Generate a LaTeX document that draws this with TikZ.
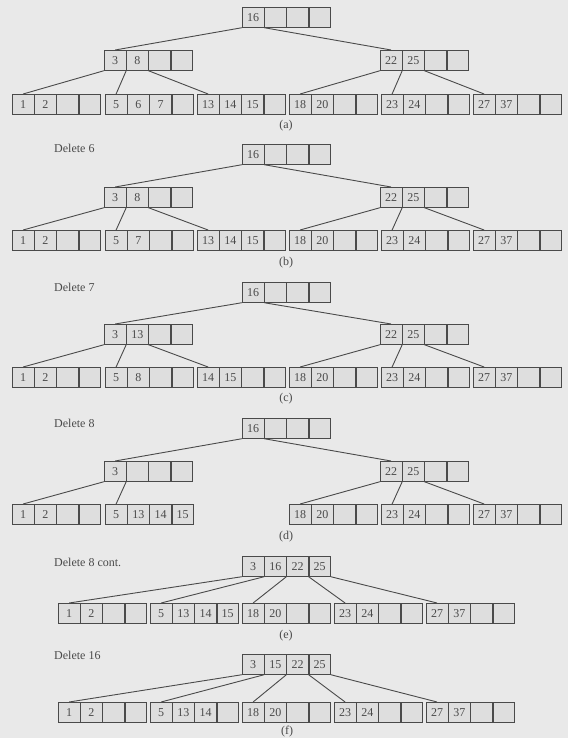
\documentclass[tikz,border=0pt]{standalone}
\usepackage{fontspec}
\setmainfont{Liberation Serif}
\definecolor{paper}{HTML}{E9E9E9}
\definecolor{cellfill}{HTML}{DEDEDE}
\definecolor{ink}{HTML}{4A4A4A}
\tikzset{
  cell/.style={draw=ink, fill=cellfill, minimum width=21.5pt, minimum height=20pt,
    inner sep=0pt, anchor=north west, font=\fontsize{12}{14}\selectfont, text=ink, line width=0.7pt},
  edge/.style={draw=ink, line width=0.9pt},
  lbl/.style={font=\fontsize{12}{14}\selectfont, text=ink, inner sep=0pt},
}
\newcommand{\btnode}[7]{%
  \node[cell] (#1-1) at (#2,#3) {#4};
  \node[cell] (#1-2) at (#1-1.north east) {#5};
  \node[cell] (#1-3) at (#1-2.north east) {#6};
  \node[cell] (#1-4) at (#1-3.north east) {#7};
}
\begin{document}
\begin{tikzpicture}[x=1pt,y=-1pt]
\fill[paper] (0,0) rectangle (568,738);
\useasboundingbox (0,0) rectangle (568,738);

% ---------------- (a)
\btnode{aR}{242}{7}{16}{}{}{}
\btnode{aL}{104}{50}{3}{8}{}{}
\btnode{aT}{380}{50}{22}{25}{}{}
\btnode{a1}{12}{94}{1}{2}{}{}
\btnode{a2}{105}{94}{5}{6}{7}{}
\btnode{a3}{197}{94}{13}{14}{15}{}
\btnode{a4}{289}{94}{18}{20}{}{}
\btnode{a5}{381}{94}{23}{24}{}{}
\btnode{a6}{473}{94}{27}{37}{}{}
\draw[edge] (aR-1.south west) -- (aL-1.north);
\draw[edge] (aR-1.south east) -- (aT-1.north);
\draw[edge] (aL-1.south west) -- (a1-1.north);
\draw[edge] (aL-1.south east) -- (a2-1.north);
\draw[edge] (aL-2.south east) -- (a3-1.north);
\draw[edge] (aT-1.south west) -- (a4-1.north);
\draw[edge] (aT-1.south east) -- (a5-1.north);
\draw[edge] (aT-2.south east) -- (a6-1.north);
\node[lbl] (capa) at (286,126) {(a)};

% ---------------- (b)
\node[lbl, anchor=west] (delb) at (54,148) {Delete 6};
\btnode{bR}{242}{144}{16}{}{}{}
\btnode{bL}{104}{187}{3}{8}{}{}
\btnode{bT}{380}{187}{22}{25}{}{}
\btnode{b1}{12}{230}{1}{2}{}{}
\btnode{b2}{105}{230}{5}{7}{}{}
\btnode{b3}{197}{230}{13}{14}{15}{}
\btnode{b4}{289}{230}{18}{20}{}{}
\btnode{b5}{381}{230}{23}{24}{}{}
\btnode{b6}{473}{230}{27}{37}{}{}
\draw[edge] (bR-1.south west) -- (bL-1.north);
\draw[edge] (bR-1.south east) -- (bT-1.north);
\draw[edge] (bL-1.south west) -- (b1-1.north);
\draw[edge] (bL-1.south east) -- (b2-1.north);
\draw[edge] (bL-2.south east) -- (b3-1.north);
\draw[edge] (bT-1.south west) -- (b4-1.north);
\draw[edge] (bT-1.south east) -- (b5-1.north);
\draw[edge] (bT-2.south east) -- (b6-1.north);
\node[lbl] (capb) at (286,263) {(b)};

% ---------------- (c)
\node[lbl, anchor=west] (delc) at (54,287) {Delete 7};
\btnode{cR}{242}{282}{16}{}{}{}
\btnode{cL}{104}{324}{3}{13}{}{}
\btnode{cT}{380}{324}{22}{25}{}{}
\btnode{c1}{12}{367}{1}{2}{}{}
\btnode{c2}{105}{367}{5}{8}{}{}
\btnode{c3}{197}{367}{14}{15}{}{}
\btnode{c4}{289}{367}{18}{20}{}{}
\btnode{c5}{381}{367}{23}{24}{}{}
\btnode{c6}{473}{367}{27}{37}{}{}
\draw[edge] (cR-1.south west) -- (cL-1.north);
\draw[edge] (cR-1.south east) -- (cT-1.north);
\draw[edge] (cL-1.south west) -- (c1-1.north);
\draw[edge] (cL-1.south east) -- (c2-1.north);
\draw[edge] (cL-2.south east) -- (c3-1.north);
\draw[edge] (cT-1.south west) -- (c4-1.north);
\draw[edge] (cT-1.south east) -- (c5-1.north);
\draw[edge] (cT-2.south east) -- (c6-1.north);
\node[lbl] (capc) at (286,399) {(c)};

% ---------------- (d)
\node[lbl, anchor=west] (deld) at (54,423) {Delete 8};
\btnode{dR}{242}{418}{16}{}{}{}
\btnode{dL}{104}{461}{3}{}{}{}
\btnode{dT}{380}{461}{22}{25}{}{}
\btnode{d1}{12}{504}{1}{2}{}{}
\btnode{d2}{105}{504}{5}{13}{14}{15}
\btnode{d4}{289}{504}{18}{20}{}{}
\btnode{d5}{381}{504}{23}{24}{}{}
\btnode{d6}{473}{504}{27}{37}{}{}
\draw[edge] (dR-1.south west) -- (dL-1.north);
\draw[edge] (dR-1.south east) -- (dT-1.north);
\draw[edge] (dL-1.south west) -- (d1-1.north);
\draw[edge] (dL-1.south east) -- (d2-1.north);
\draw[edge] (dT-1.south west) -- (d4-1.north);
\draw[edge] (dT-1.south east) -- (d5-1.north);
\draw[edge] (dT-2.south east) -- (d6-1.north);
\node[lbl] (capd) at (286,537) {(d)};

% ---------------- (e)
\node[lbl, anchor=west] (dele) at (54,562) {Delete 8 cont.};
\btnode{eR}{242}{556}{3}{16}{22}{25}
\btnode{e1}{58}{603}{1}{2}{}{}
\btnode{e2}{150}{603}{5}{13}{14}{15}
\btnode{e3}{242}{603}{18}{20}{}{}
\btnode{e4}{334}{603}{23}{24}{}{}
\btnode{e5}{426}{603}{27}{37}{}{}
\draw[edge] (eR-1.south west) -- (e1-1.north);
\draw[edge] (eR-1.south east) -- (e2-1.north);
\draw[edge] (eR-2.south east) -- (e3-1.north);
\draw[edge] (eR-3.south east) -- (e4-1.north);
\draw[edge] (eR-4.south east) -- (e5-1.north);
\node[lbl] (cape) at (286,636) {(e)};

% ---------------- (f)
\node[lbl, anchor=west] (delf) at (54,655) {Delete 16};
\btnode{fR}{242}{654}{3}{15}{22}{25}
\btnode{f1}{58}{702}{1}{2}{}{}
\btnode{f2}{150}{702}{5}{13}{14}{}
\btnode{f3}{242}{702}{18}{20}{}{}
\btnode{f4}{334}{702}{23}{24}{}{}
\btnode{f5}{426}{702}{27}{37}{}{}
\draw[edge] (fR-1.south west) -- (f1-1.north);
\draw[edge] (fR-1.south east) -- (f2-1.north);
\draw[edge] (fR-2.south east) -- (f3-1.north);
\draw[edge] (fR-3.south east) -- (f4-1.north);
\draw[edge] (fR-4.south east) -- (f5-1.north);
\node[lbl] (capf) at (287,732) {(f)};
\end{tikzpicture}
\end{document}
